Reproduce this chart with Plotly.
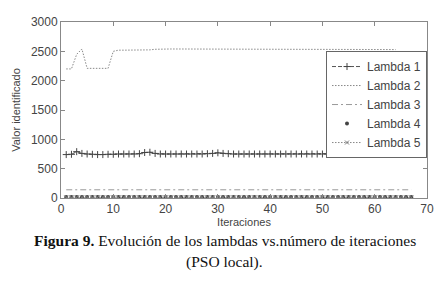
import plotly.graph_objects as go

iters = list(range(1, 68))
lambda1 = [740, 745, 790, 760, 750, 745, 740, 740, 745, 745, 750, 750, 750, 750, 755, 775, 780, 760, 750, 750,
           750, 750, 750, 750, 750, 750, 750, 755, 760, 770, 760, 755, 750, 750, 750, 750, 750, 750, 750, 750,
           750, 750, 750, 750, 750, 750, 750, 750, 750, 750, 750, 750, 750, 750, 750, 750, 750, 750, 750, 750,
           750, 750, 760, 770, 755, 750, 750]
iters2 = list(range(1, 65))
lambda2 = [2200, 2200, 2450, 2540, 2210, 2210, 2210, 2210, 2210, 2500, 2520, 2520, 2520, 2520, 2520, 2520, 2525, 2535,
           2540, 2540, 2540, 2540, 2540, 2540, 2540, 2540, 2540, 2540, 2540, 2540, 2540, 2540, 2540, 2540, 2540, 2540,
           2540, 2540, 2540, 2540, 2540, 2540, 2540, 2540, 2540, 2540, 2540, 2540, 2540, 2540, 2540, 2540, 2540, 2540,
           2540, 2540, 2540, 2540, 2540, 2540, 2540, 2540, 2540, 2530]
lambda3 = [140, 140, 140, 140, 140, 140, 140, 140, 140, 140, 140, 140, 140, 140, 140, 140, 140, 140, 140, 140,
           140, 140, 140, 140, 140, 140, 140, 140, 140, 140, 140, 140, 140, 140, 140, 140, 140, 140, 140, 140,
           140, 140, 140, 140, 140, 140, 140, 140, 140, 140, 140, 140, 140, 140, 140, 140, 140, 140, 140, 140,
           140, 140, 140, 140, 140, 140, 140]
lambda4 = [15, 15, 15, 15, 15, 15, 15, 15, 15, 15, 15, 15, 15, 15, 15, 15, 15, 15, 15, 15,
           15, 15, 15, 15, 15, 15, 15, 15, 15, 15, 15, 15, 15, 15, 15, 15, 15, 15, 15, 15,
           15, 15, 15, 15, 15, 15, 15, 15, 15, 15, 15, 15, 15, 15, 15, 15, 15, 15, 15, 15,
           15, 15, 15, 15, 15, 15, 15]
lambda5 = [10, 10, 10, 10, 10, 10, 10, 10, 10, 10, 10, 10, 10, 10, 10, 10, 10, 10, 10, 10,
           10, 10, 10, 10, 10, 10, 10, 10, 10, 10, 10, 10, 10, 10, 10, 10, 10, 10, 10, 10,
           10, 10, 10, 10, 10, 10, 10, 10, 10, 10, 10, 10, 10, 10, 10, 10, 10, 10, 10, 10,
           10, 10, 10, 10, 10, 10, 10]
x_ticks = [0, 10, 20, 30, 40, 50, 60, 70]
y_ticks = [0, 500, 1000, 1500, 2000, 2500, 3000]

SANS = "Liberation Sans, Arial"
SERIF = "Liberation Serif, Times New Roman"

fig = go.Figure()
fig.add_trace(go.Scatter(x=iters, y=lambda1, name="Lambda 1", mode="lines+markers",
                         line=dict(color="#555555", width=1, dash="4px,2px"),
                         marker=dict(symbol="cross-thin", size=5, line=dict(color="#444444", width=1))))
fig.add_trace(go.Scatter(x=iters2, y=lambda2, name="Lambda 2", mode="lines",
                         line=dict(color="#888888", width=1, dash="1.5px,1.5px")))
fig.add_trace(go.Scatter(x=iters, y=lambda3, name="Lambda 3", mode="lines",
                         line=dict(color="#999999", width=1, dash="6px,3px,2px,3px")))
fig.add_trace(go.Scatter(x=iters, y=lambda4, name="Lambda 4", mode="markers",
                         marker=dict(symbol="circle", size=4, color="#444444")))
fig.add_trace(go.Scatter(x=iters, y=lambda5, name="Lambda 5", mode="lines+markers",
                         line=dict(color="#888888", width=1, dash="1.5px,1.5px"),
                         marker=dict(symbol="x-thin", size=4, line=dict(color="#777777", width=1))))

axis_common = dict(showgrid=False, zeroline=False, showline=True, linecolor="#888888", linewidth=1,
                   mirror="allticks", ticks="inside", ticklen=4, tickcolor="#888888",
                   tickfont=dict(family=SANS, size=12, color="#444444"))
fig.update_xaxes(range=[0, 70], tickvals=x_ticks, **axis_common,
                 title=dict(text="Iteraciones", font=dict(family=SANS, size=11, color="#444444"),
                            standoff=2))
fig.update_yaxes(range=[0, 3000], tickvals=y_ticks, **axis_common,
                 title=dict(text="Valor identificado", font=dict(family=SANS, size=11, color="#444444"),
                            standoff=8))

fig.update_layout(
    width=435, height=278,
    margin=dict(l=48, r=16, t=7, b=88),
    plot_bgcolor="white", paper_bgcolor="white",
    showlegend=True,
    legend=dict(x=1, y=0.835, xanchor="right", yanchor="top", bgcolor="white",
                bordercolor="#666666", borderwidth=1,
                font=dict(family=SANS, size=12, color="#444444"),
                itemwidth=30, tracegroupgap=0),
)
fig.add_annotation(text="<b>Figura 9.</b> Evolución de los lambdas vs.número de iteraciones",
                   xref="paper", yref="paper", x=0.447, y=-0.240, xanchor="center", yanchor="middle",
                   showarrow=False,
                   font=dict(family=SERIF, size=15.5, color="#111111"))
fig.add_annotation(text="(PSO local).",
                   xref="paper", yref="paper", x=0.447, y=-0.366, xanchor="center", yanchor="middle",
                   showarrow=False,
                   font=dict(family=SERIF, size=15.5, color="#111111"))

fig.write_html("out.html")
